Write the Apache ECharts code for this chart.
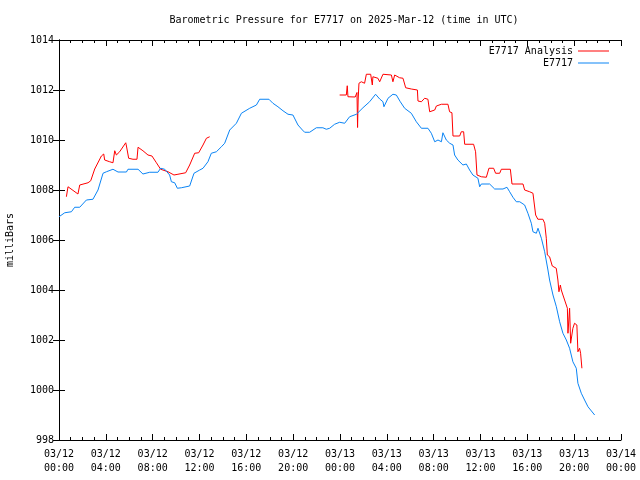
<!DOCTYPE html>
<html>
<head>
<meta charset="utf-8">
<script src="https://cdn.jsdelivr.net/npm/echarts@6/dist/echarts.min.js"></script>
<style>html,body{margin:0;padding:0;background:#fff}#chart{width:640px;height:480px}</style>
</head>
<body>
<div id="chart"></div>
<script>
// Hours since 03/12 00:00 UTC
const tickLabelsTop = ['03/12','03/12','03/12','03/12','03/12','03/12','03/13','03/13','03/13','03/13','03/13','03/13','03/14'];
const tickLabelsBottom = ['00:00','04:00','08:00','12:00','16:00','20:00','00:00','04:00','08:00','12:00','16:00','20:00','00:00'];

const stationTimes = [0, 0.49, 1.06, 1.34, 1.77, 2.34, 2.90, 3.33, 3.76, 4.05, 4.61, 5.04, 5.76, 5.89, 6.75, 7.17, 7.75, 8.45, 8.68, 9.03, 9.45, 9.60, 9.88, 10.11, 10.45, 11.16, 11.53, 12.02, 12.30, 12.72, 13.01, 13.44, 13.87, 14.15, 14.58, 15.15, 15.58, 16.29, 16.86, 17.14, 17.93, 18.27, 18.70, 19.13, 19.56, 19.98, 20.41, 20.79, 20.98, 21.41, 21.98, 22.54, 22.83, 23.12, 23.54, 23.97, 24.40, 24.82, 25.40, 25.96, 26.53, 27.04, 27.39, 27.67, 27.75, 28.10, 28.52, 28.81, 29.15, 29.52, 30.09, 30.52, 30.95, 31.51, 31.80, 32.09, 32.37, 32.66, 32.79, 33.08, 33.37, 33.65, 33.79, 34.07, 34.50, 34.79, 35.07, 35.35, 35.78, 35.93, 36.07, 36.78, 37.21, 37.92, 38.26, 38.49, 38.77, 39.06, 39.35, 39.49, 39.77, 40.05, 40.34, 40.48, 40.77, 40.91, 41.20, 41.48, 41.76, 41.90, 42.19, 42.48, 42.76, 43.04, 43.33, 43.61, 43.89, 44.18, 44.32, 44.61, 44.89, 45.18, 45.75];
const stationValues = [1006.93, 1007.09, 1007.13, 1007.31, 1007.31, 1007.6, 1007.63, 1008.0, 1008.67, 1008.73, 1008.83, 1008.72, 1008.72, 1008.83, 1008.83, 1008.64, 1008.71, 1008.71, 1008.87, 1008.83, 1008.6, 1008.33, 1008.29, 1008.07, 1008.09, 1008.16, 1008.67, 1008.8, 1008.87, 1009.13, 1009.47, 1009.53, 1009.73, 1009.87, 1010.4, 1010.67, 1011.07, 1011.27, 1011.4, 1011.63, 1011.63, 1011.47, 1011.33, 1011.17, 1011.03, 1011.0, 1010.6, 1010.4, 1010.31, 1010.31, 1010.49, 1010.49, 1010.43, 1010.47, 1010.63, 1010.71, 1010.67, 1010.93, 1011.03, 1011.29, 1011.53, 1011.83, 1011.64, 1011.53, 1011.33, 1011.67, 1011.83, 1011.8, 1011.53, 1011.27, 1011.07, 1010.73, 1010.47, 1010.47, 1010.27, 1009.93, 1010.0, 1009.93, 1010.29, 1010.0, 1009.87, 1009.8, 1009.4, 1009.2, 1009.0, 1009.04, 1008.8, 1008.6, 1008.47, 1008.13, 1008.24, 1008.24, 1008.04, 1008.04, 1008.11, 1007.93, 1007.71, 1007.53, 1007.53, 1007.47, 1007.4, 1007.07, 1006.67, 1006.33, 1006.27, 1006.47, 1006.07, 1005.53, 1004.8, 1004.4, 1003.8, 1003.33, 1002.73, 1002.27, 1002.0, 1001.67, 1001.13, 1000.87, 1000.27, 999.87, 999.6, 999.33, 999.0];

// null marks the data gap
const analysisTimes = [0.63, 0.77, 1.62, 1.77, 2.48, 2.71, 3.05, 3.62, 3.82, 3.90, 4.33, 4.61, 4.76, 4.90, 5.18, 5.70, 5.76, 5.95, 6.32, 6.66, 6.75, 7.17, 7.60, 7.94, 8.32, 8.68, 9.31, 9.82, 10.16, 10.82, 11.16, 11.59, 11.93, 12.30, 12.59, 12.87,
  18.0,
  23.97, 24.54, 24.62, 24.68, 25.30, 25.45, 25.50, 25.55, 25.62, 25.82, 26.10, 26.25, 26.62, 26.76, 26.81, 27.24, 27.39, 27.67, 28.39, 28.52, 28.67, 29.09, 29.38, 29.61, 30.09, 30.61, 30.66, 30.95, 31.23, 31.51, 31.66, 31.80, 32.09, 32.23, 32.66, 33.22, 33.36, 33.56, 33.65, 34.22, 34.36, 34.56, 34.65, 35.41, 35.58, 35.70, 36.07, 36.50, 36.72, 37.12, 37.29, 37.64, 37.78, 38.55, 38.69, 39.63, 39.77, 40.20, 40.48, 40.71, 40.90, 41.33, 41.48, 41.62, 41.71, 41.90, 42.13, 42.47, 42.61, 42.70, 42.82, 42.90, 43.04, 43.19, 43.42, 43.47, 43.61, 43.70, 43.89, 44.03, 44.23, 44.32, 44.46, 44.55, 44.66];
const analysisValues = [1007.73, 1008.13, 1007.84, 1008.2, 1008.29, 1008.37, 1008.84, 1009.36, 1009.44, 1009.2, 1009.13, 1009.09, 1009.57, 1009.4, 1009.53, 1009.89, 1009.76, 1009.27, 1009.23, 1009.23, 1009.71, 1009.57, 1009.4, 1009.36, 1009.09, 1008.83, 1008.73, 1008.6, 1008.63, 1008.69, 1009.0, 1009.47, 1009.49, 1009.8, 1010.07, 1010.13,
  null,
  1011.8, 1011.8, 1012.17, 1011.73, 1011.72, 1011.9, 1010.5, 1011.6, 1012.27, 1012.33, 1012.27, 1012.63, 1012.63, 1012.2, 1012.53, 1012.47, 1012.33, 1012.63, 1012.6, 1012.33, 1012.6, 1012.49, 1012.47, 1012.09, 1012.04, 1012.0, 1011.56, 1011.53, 1011.67, 1011.63, 1011.13, 1011.07, 1011.2, 1011.36, 1011.43, 1011.43, 1011.13, 1011.09, 1010.16, 1010.16, 1010.33, 1010.33, 1009.83, 1009.83, 1009.53, 1008.6, 1008.53, 1008.51, 1008.87, 1008.87, 1008.67, 1008.67, 1008.83, 1008.83, 1008.24, 1008.24, 1008.0, 1007.93, 1007.87, 1007.0, 1006.83, 1006.83, 1006.67, 1006.07, 1005.4, 1005.33, 1004.96, 1004.87, 1004.4, 1003.93, 1004.2, 1004.0, 1003.8, 1003.73, 1003.27, 1002.27, 1003.27, 1001.87, 1002.47, 1002.67, 1002.6, 1001.53, 1001.67, 1001.47, 1000.87];

const FONT = 'DejaVu Sans Mono';
const pair = (ts, vs) => ts.map((t, i) => [t, vs[i]]);

const chart = echarts.init(document.getElementById('chart'), null, {renderer: 'canvas'});

const xBase = {
  type: 'value', min: 0, max: 48, interval: 4,
  axisLine: {show: true, lineStyle: {color: '#000', width: 1}},
  axisTick: {show: true, inside: true, length: 6, lineStyle: {color: '#000'}},
  minorTick: {show: true, splitNumber: 4, length: 3, lineStyle: {color: '#000'}},
  splitLine: {show: false},
  minorSplitLine: {show: false}
};
const yBase = {
  type: 'value', min: 998, max: 1014, interval: 2,
  axisLine: {show: true, lineStyle: {color: '#000', width: 1}},
  axisTick: {show: true, inside: true, length: 6, lineStyle: {color: '#000'}},
  splitLine: {show: false}
};

chart.setOption({
  backgroundColor: '#fff',
  animation: false,
  title: {
    text: 'Barometric Pressure for E7717 on 2025-Mar-12 (time in UTC)',
    left: 339, top: 10, textAlign: 'center',
    textStyle: {fontFamily: FONT, fontSize: 10, fontWeight: 'normal', color: '#000'}
  },
  legend: {
    orient: 'vertical', right: 26, top: 40, align: 'right', itemGap: 0,
    icon: 'rect', itemWidth: 31, itemHeight: 1,
    textStyle: {fontFamily: FONT, fontSize: 10, color: '#000', lineHeight: 12},
    data: ['E7717 Analysis', 'E7717']
  },
  grid: {left: 59, right: 19, top: 40, bottom: 40, containLabel: false, outerBoundsMode: 'none'},
  xAxis: [
    Object.assign({}, xBase, {
      position: 'bottom',
      axisLabel: {
        margin: 7, color: '#000', fontFamily: FONT, fontSize: 10, lineHeight: 14,
        formatter: function (v) { const i = Math.round(v / 4); return tickLabelsTop[i] + '\n' + tickLabelsBottom[i]; }
      }
    }),
    Object.assign({}, xBase, {position: 'top', axisLabel: {show: false}})
  ],
  yAxis: [
    Object.assign({}, yBase, {
      position: 'left',
      name: 'milliBars', nameLocation: 'middle', nameGap: 44, nameRotate: 90,
      nameTextStyle: {fontFamily: FONT, fontSize: 10, color: '#000'},
      axisLabel: {margin: 5, color: '#000', fontFamily: FONT, fontSize: 10, formatter: function (v) { return String(v); }}
    }),
    Object.assign({}, yBase, {position: 'right', axisLabel: {show: false}})
  ],
  series: [
    {
      name: 'E7717 Analysis', type: 'line', xAxisIndex: 0, yAxisIndex: 0,
      data: pair(analysisTimes, analysisValues),
      showSymbol: false, symbol: 'none', connectNulls: false,
      lineStyle: {color: '#ff0000', width: 1}, itemStyle: {color: '#ff0000'}
    },
    {
      name: 'E7717', type: 'line', xAxisIndex: 0, yAxisIndex: 0,
      data: pair(stationTimes, stationValues),
      showSymbol: false, symbol: 'none',
      lineStyle: {color: '#0a84f5', width: 1}, itemStyle: {color: '#0a84f5'}
    }
  ]
});
</script>
</body>
</html>
